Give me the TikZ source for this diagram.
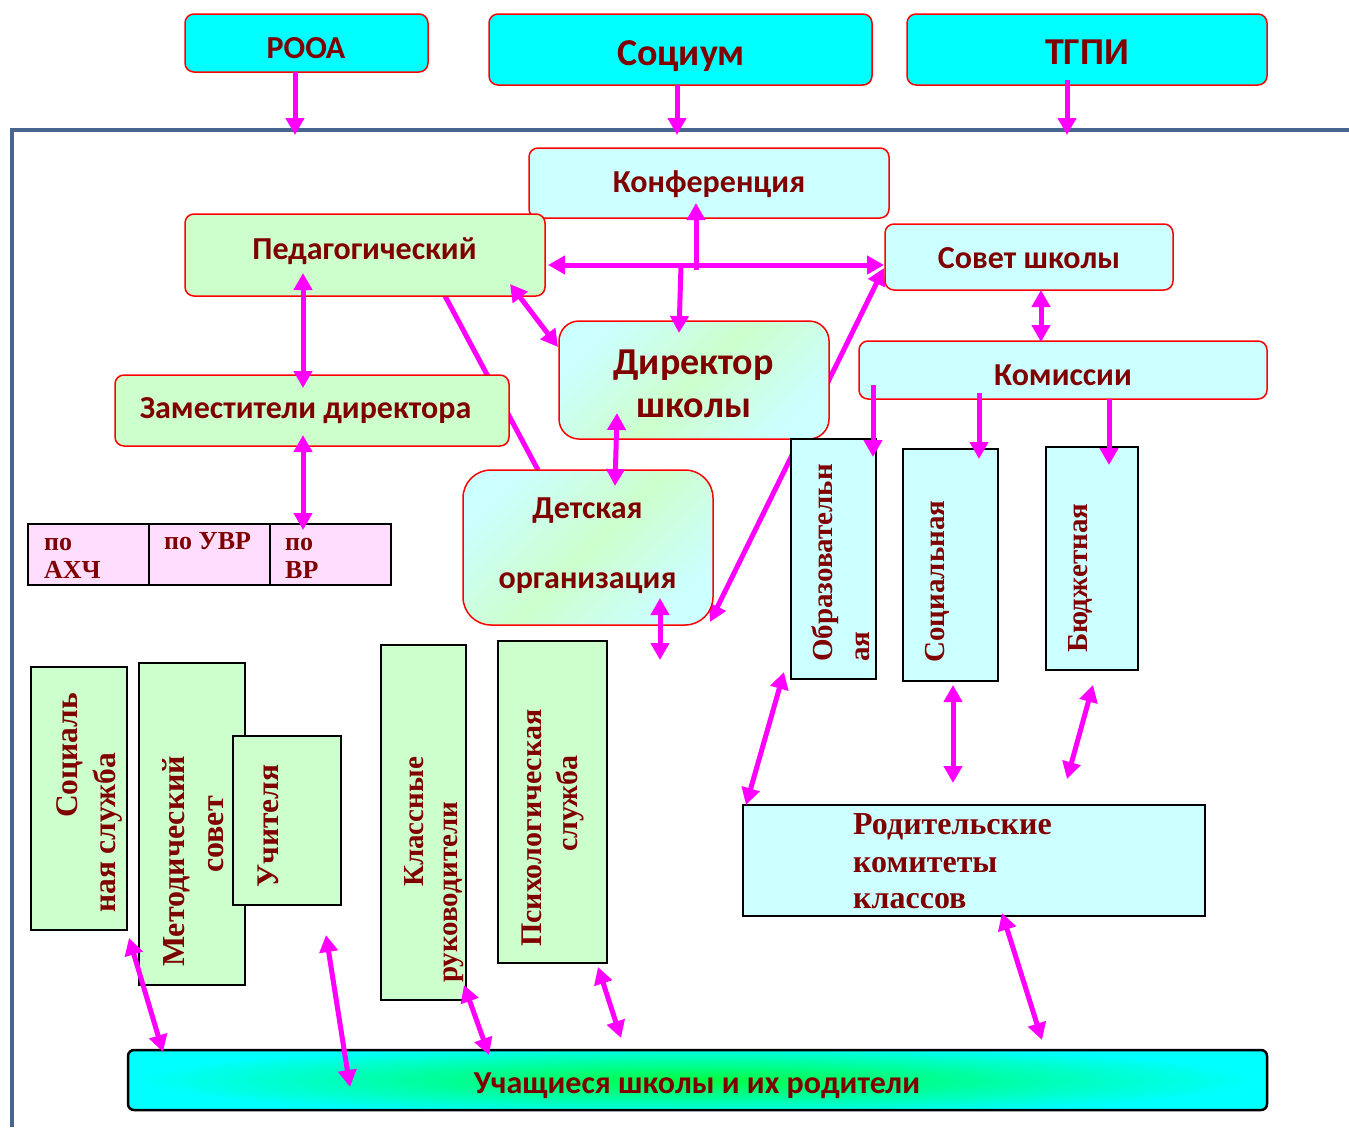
\documentclass[tikz,border=0pt]{standalone}
\usepackage{fontspec}
\setmainfont{Liberation Serif}
\newfontfamily\carl{Carlito}
\usetikzlibrary{arrows.meta,calc}
\definecolor{txt}{HTML}{800000}
\definecolor{mag}{HTML}{FF00FF}
\definecolor{framec}{HTML}{47658F}
\definecolor{aqua}{HTML}{00FFFF}
\definecolor{lcyan}{HTML}{CCFFFF}
\definecolor{lgreen}{HTML}{CCFFCC}
\definecolor{lpink}{HTML}{FFDDFF}
\definecolor{glow}{HTML}{00FF40}
\newcommand\fsz[1]{\fontsize{#1}{#1}\selectfont}
\begin{document}
\begin{tikzpicture}[x=1pt,y=-1pt,
  sbox/.style={draw=red, line width=1.5pt, rounded corners=9pt, inner sep=0pt},
  rbox/.style={draw=black, line width=2.5pt, inner sep=0pt},
  lbl/.style={text=txt, inner sep=0pt, anchor=base, font=\carl\bfseries\fsz{#1}},
  slbl/.style={text=txt, inner sep=0pt, anchor=base west, font=\bfseries\fsz{#1}},
  vt/.style={text=txt, inner sep=0pt, rotate=90, anchor=base west, font=\bfseries\fsz{#1}},
  arr/.style={draw=mag, line width=5pt, -{Triangle[length=17pt,width=18pt]}},
  darr/.style={draw=mag, line width=5pt, {Triangle[length=17pt,width=18pt]}-{Triangle[length=17pt,width=18pt]}},
  pline/.style={draw=mag, line width=5pt},
  dshade/.style={top color=lcyan, bottom color=lcyan, middle color=lgreen, shading angle=45}
]
\useasboundingbox (0,0) rectangle (1349,1127);
\fill[white] (0,0) rectangle (1349,1127);

% frame
\coordinate (fr1) at (12,1127);
\coordinate (fr2) at (12,130);
\coordinate (fr3) at (1349,130);
\draw[framec, line width=4pt] (fr1) -- (fr2) -- (fr3);

% connectors drawn behind boxes
\coordinate (pl1) at (445,296);
\coordinate (pl2) at (538,470);
\draw[pline] (pl1) -- (pl2);
\coordinate (sd1) at (884,268);
\coordinate (sd2) at (710,622);
\draw[darr] (sd1) -- (sd2);

% top boxes
\node[sbox, fill=aqua, minimum width=243pt, minimum height=58pt] (rooa) at (306.5,43) {};
\node[sbox, fill=aqua, minimum width=383pt, minimum height=71pt] (socium) at (680.5,49.5) {};
\node[sbox, fill=aqua, minimum width=360pt, minimum height=71pt] (tgpi) at (1087,49.5) {};
\node[lbl=32] (trooa) at (306,58) {РООА};
\node[lbl=38] (tsocium) at (681,65) {Социум};
\node[lbl=38] (ttgpi) at (1087,64) {ТГПИ};

% main boxes
\node[sbox, fill=lcyan, minimum width=360pt, minimum height=70pt] (konf) at (709,183) {};
\node[lbl=32] (tkonf) at (709,192) {Конференция};
\node[sbox, fill=lgreen, minimum width=360pt, minimum height=82pt] (ped) at (365,255) {};
\node[lbl=32] (tped) at (364.5,259) {Педагогический};
\node[sbox, fill=lcyan, minimum width=288pt, minimum height=66pt] (sovet) at (1029,257) {};
\node[lbl=32] (tsovet) at (1029,268) {Совет школы};
\node[sbox, dshade, rounded corners=20pt, minimum width=270pt, minimum height=118pt] (dir) at (694,380) {};
\node[lbl=38] (tdir1) at (693.5,374) {Директор};
\node[lbl=38] (tdir2) at (694,417) {школы};
\node[sbox, fill=lcyan, minimum width=408pt, minimum height=58pt] (kom) at (1063,370) {};
\node[lbl=32] (tkom) at (1063,385) {Комиссии};
\node[sbox, fill=lgreen, minimum width=394pt, minimum height=71pt] (zam) at (312,410.5) {};
\node[lbl=32] (tzam) at (305.5,418) {Заместители директора};
\node[sbox, dshade, rounded corners=28pt, minimum width=250pt, minimum height=155pt] (det) at (588,547.5) {};
\node[lbl=32] (tdet1) at (587.5,518) {Детская};
\node[lbl=32] (tdet2) at (587.5,588) {организация};

% table
\node[rbox, fill=lpink, minimum width=121pt, minimum height=61pt] (c1) at (88.5,554.5) {};
\node[rbox, fill=lpink, minimum width=121pt, minimum height=61pt] (c2) at (209.5,554.5) {};
\node[rbox, fill=lpink, minimum width=121pt, minimum height=61pt] (c3) at (330.5,554.5) {};
\node[slbl=26] (tc1a) at (44,550) {по};
\node[slbl=26] (tc1b) at (44,578) {АХЧ};
\node[slbl=26] (tc2) at (164,549) {по УВР};
\node[slbl=26] (tc3a) at (285,550) {по};
\node[slbl=26] (tc3b) at (285,578) {ВР};

% commissions
\node[rbox, fill=lcyan, minimum width=85pt, minimum height=240pt] (obr) at (833.5,559) {};
\node[rbox, fill=lcyan, minimum width=95pt, minimum height=232pt] (socc) at (950.5,565) {};
\node[rbox, fill=lcyan, minimum width=92pt, minimum height=223pt] (bud) at (1092,558.5) {};
\node[vt=29] (tobr1) at (832,662) {Образовательн};
\node[vt=29] (tobr2) at (869,662) {ая};
\node[vt=29] (tsocc) at (944,663) {Социальная};
\node[vt=29] (tbud) at (1087,653) {Бюджетная};

% left columns
\node[rbox, fill=lgreen, minimum width=96pt, minimum height=263pt] (socs) at (79,798.5) {};
\node[vt=31.5] (tsocs1) at (77,818) {Социаль};
\node[vt=31.5] (tsocs2) at (115,913) {ная служба};
\node[rbox, fill=lgreen, minimum width=106pt, minimum height=322pt] (met) at (192,824) {};
\node[vt=32] (tmet1) at (184,967) {Методический};
\node[vt=32] (tmet2) at (223,873) {совет};
\node[rbox, fill=lgreen, minimum width=108pt, minimum height=169pt] (uch) at (287,820.5) {};
\node[vt=31.5] (tuch) at (278,888) {Учителя};
\node[rbox, fill=lgreen, minimum width=85pt, minimum height=355pt] (kl) at (423.5,822.5) {};
\node[vt=29] (tkl1) at (423,887) {Классные};
\node[vt=29] (tkl2) at (457,983) {руководители};
\node[rbox, fill=lgreen, minimum width=109pt, minimum height=322pt] (psy) at (552.5,802) {};
\node[vt=30] (tpsy1) at (541,947) {Психологическая};
\node[vt=30] (tpsy2) at (577,852) {служба};

% parents committees
\node[rbox, fill=lcyan, minimum width=462pt, minimum height=111pt] (rod) at (974,860.5) {};
\node[slbl=32] (trod1) at (853,834) {Родительские};
\node[slbl=32] (trod2) at (853,872) {комитеты};
\node[slbl=32] (trod3) at (853,908) {классов};

% students: cyan bar with green glow
\begin{scope}
  \clip[rounded corners=6pt] (128,1050) rectangle (1267,1110);
  \fill[aqua] (128,1050) rectangle (1267,1110);
  \shade[inner color=glow, outer color=aqua] (137,1044) rectangle (1257,1116);
\end{scope}
\node[draw=black, line width=2.5pt, rounded corners=6pt, inner sep=0pt,
      minimum width=1139pt, minimum height=60pt] (stud) at (697.5,1080) {};
\node[lbl=32] (tstud) at (697,1093) {Учащиеся школы и их родители};

% connectors
\coordinate (a1s) at (295,72);   \coordinate (a1e) at (295,135);
\coordinate (a2s) at (677,85);   \coordinate (a2e) at (677,135);
\coordinate (a3s) at (1067,80);  \coordinate (a3e) at (1067,135);
\draw[arr] (a1s) -- (a1e);
\draw[arr] (a2s) -- (a2e);
\draw[arr] (a3s) -- (a3e);

\coordinate (k1s) at (696,270); \coordinate (k1e) at (696,203);
\draw[arr] (k1s) -- (k1e);
\coordinate (h1) at (548,265); \coordinate (h2) at (884,265);
\draw[darr] (h1) -- (h2);
\coordinate (d1s) at (681,265); \coordinate (d1e) at (679,333);
\draw[arr] (d1s) -- (d1e);

\coordinate (pz1) at (303,273); \coordinate (pz2) at (303,388);
\draw[darr] (pz1) -- (pz2);
\coordinate (pd1) at (510,284); \coordinate (pd2) at (558,347);
\draw[darr] (pd1) -- (pd2);
\coordinate (zt1) at (303,435); \coordinate (zt2) at (303,530);
\draw[darr] (zt1) -- (zt2);
\coordinate (dd1) at (617,413); \coordinate (dd2) at (615,486);
\draw[darr] (dd1) -- (dd2);
\coordinate (dn1) at (660,598); \coordinate (dn2) at (660,660);
\draw[darr] (dn1) -- (dn2);

\coordinate (sk1) at (1041,290); \coordinate (sk2) at (1041,342);
\draw[darr] (sk1) -- (sk2);
\coordinate (ko1) at (873,385); \coordinate (ko2) at (873,457);
\draw[arr] (ko1) -- (ko2);
\coordinate (kc1) at (979,393); \coordinate (kc2) at (979,459);
\draw[arr] (kc1) -- (kc2);
\coordinate (kb1) at (1109,399); \coordinate (kb2) at (1109,465);
\draw[arr] (kb1) -- (kb2);

\coordinate (or1) at (784,672); \coordinate (or2) at (746,805);
\draw[darr] (or1) -- (or2);
\coordinate (sr1) at (953,685); \coordinate (sr2) at (953,783);
\draw[darr] (sr1) -- (sr2);
\coordinate (br1) at (1093,685); \coordinate (br2) at (1067,779);
\draw[darr] (br1) -- (br2);
\coordinate (rs1) at (1002,913); \coordinate (rs2) at (1042,1040);
\draw[darr] (rs1) -- (rs2);

\coordinate (ss1) at (129,938); \coordinate (ss2) at (163,1052);
\draw[darr] (ss1) -- (ss2);
\coordinate (us1) at (326,935); \coordinate (us2) at (350,1087);
\draw[darr] (us1) -- (us2);
\coordinate (ls1) at (464,985); \coordinate (ls2) at (489,1055);
\draw[darr] (ls1) -- (ls2);
\coordinate (ps1) at (598,967); \coordinate (ps2) at (621,1038);
\draw[darr] (ps1) -- (ps2);
\end{tikzpicture}
\end{document}
